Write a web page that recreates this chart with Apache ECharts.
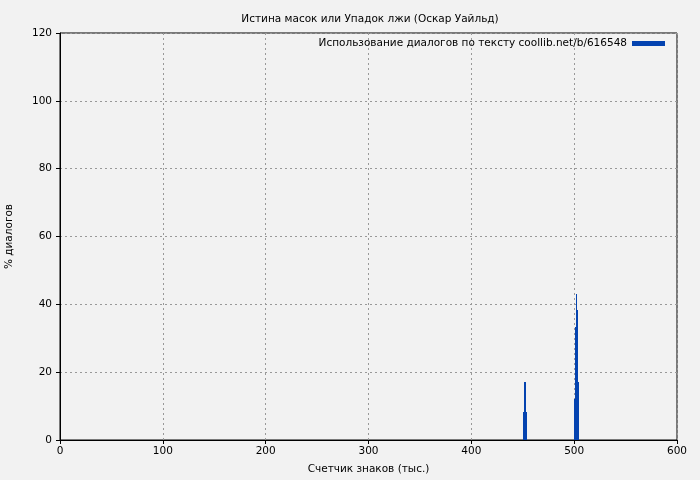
<!DOCTYPE html>
<html><head><meta charset="utf-8">
<script src="https://cdn.jsdelivr.net/npm/echarts@6/dist/echarts.min.js"></script>
<style>html,body{margin:0;padding:0;background:#f2f2f2}#c{width:700px;height:480px}</style>
</head><body><div id="c"></div>
<script>
const titleText = 'Истина масок или Упадок лжи (Оскар Уайльд)';
const seriesName = 'Использование диалогов по тексту coollib.net/b/616548';
const xName = 'Счетчик знаков (тыс.)';
const yName = '% диалогов';
const binStart = [451, 452, 453, 500, 501, 502, 503, 504];
const binValue = [8.3, 17, 8.3, 12, 33.4, 43, 38.3, 17];
const binWidth = 1;

const data = binStart.map((x, i) => [x, binValue[i]]);
const chart = echarts.init(document.getElementById('c'), null, {renderer: 'canvas'});
const font = 'DejaVu Sans';
const fs = 10.5;
chart.setOption({
  backgroundColor: '#f2f2f2',
  animation: false,
  textStyle: {fontFamily: font},
  title: {text: titleText, left: 365, textAlign: 'center', top: 9,
    textStyle: {fontSize: fs, fontWeight: 'normal', color: '#000', fontFamily: font}},
  legend: {right: 30, top: 33, itemWidth: 33, itemHeight: 5, align: 'right', itemGap: 5,
    icon: 'rect', textStyle: {fontSize: fs, color: '#000', fontFamily: font},
    data: [{name: seriesName, itemStyle: {color: '#0443b0'}}]},
  grid: {left: 60, right: 23, top: 33, bottom: 40, show: true, borderColor: '#000', borderWidth: 1,
    containLabel: false, outerBoundsMode: 'none'},
  xAxis: {type: 'value', min: 0, max: 600, interval: 100,
    name: xName, nameLocation: 'middle', nameGap: 24,
    nameTextStyle: {fontSize: fs, color: '#000', fontFamily: font},
    axisLine: {show: true, lineStyle: {color: '#000'}},
    axisTick: {show: true, length: 4, lineStyle: {color: '#000'}},
    axisLabel: {fontSize: fs, color: '#000', margin: 6, fontFamily: font},
    splitLine: {show: true, lineStyle: {color: '#999', type: [2, 3], width: 1}}},
  yAxis: {type: 'value', min: 0, max: 120, interval: 20,
    name: yName, nameLocation: 'middle', nameGap: 45, nameRotate: 90,
    nameTextStyle: {fontSize: fs, color: '#000', fontFamily: font},
    axisLine: {show: true, lineStyle: {color: '#000'}},
    axisTick: {show: true, length: 4, lineStyle: {color: '#000'}},
    axisLabel: {fontSize: fs, color: '#000', margin: 8, fontFamily: font},
    splitLine: {show: true, lineStyle: {color: '#999', type: [2, 3], width: 1}}},
  series: [{
    name: seriesName, type: 'custom', itemStyle: {color: '#0443b0'},
    data: data,
    renderItem: function (params, api) {
      const x = api.value(0), y = api.value(1);
      const p0 = api.coord([x, y]);
      const p1 = api.coord([x + binWidth, 0]);
      const x0 = Math.floor(p0[0]), x1 = Math.max(x0 + 1, Math.round(p1[0]));
      const y0 = Math.round(p0[1]), y1 = Math.round(p1[1]);
      return {type: 'rect', shape: {x: x0, y: y0, width: x1 - x0, height: y1 - y0},
        style: {fill: '#0443b0'}};
    }
  }]
});
</script></body></html>
